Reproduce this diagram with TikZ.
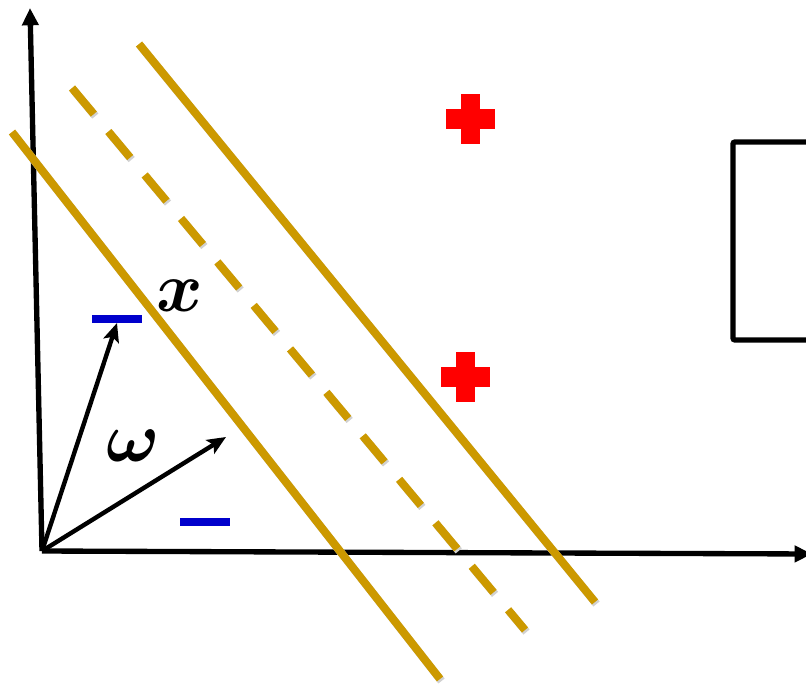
\documentclass[tikz,border=0pt]{standalone}
\usepackage{amsmath,bm}
\usetikzlibrary{arrows.meta}
\definecolor{gold}{RGB}{204,153,0}
\definecolor{plusred}{RGB}{255,0,0}
\definecolor{minusblue}{RGB}{0,0,204}
\begin{document}
\begin{tikzpicture}[x=0.75pt,y=-0.75pt,
  axis/.style={line width=4pt,-{Triangle[length=13pt,width=12pt]}},
  vec/.style={line width=3.3pt,-{Stealth[length=14pt,width=12pt,inset=3pt]}},
  margin/.style={gold,line width=6pt},
  midline/.style={margin,dash pattern=on 25.5pt off 17pt},
  shade/.style={black!18,line width=6pt},
  minus/.style={fill=minusblue,draw=none,minimum width=37.5pt,minimum height=6pt,inner sep=0pt,outer sep=0pt},
  plush/.style={fill=plusred,draw=none,minimum width=37pt,minimum height=15pt,inner sep=0pt},
  plusv/.style={fill=plusred,draw=none,minimum width=14.5pt,minimum height=37.5pt,inner sep=0pt},
  lbl/.style={scale=5.3,inner sep=0pt},
  boxline/.style={line width=4pt,rounded corners=1.5pt}]
\useasboundingbox (0,0) rectangle (806,685);
\clip (0,0) rectangle (806,685);
% coordinates
\coordinate (O) at (42,551);
\coordinate (ytip) at (30,8);
\coordinate (xtip) at (812,554);
\coordinate (w2) at (226,437);
\coordinate (l1a) at (12,132);
\coordinate (l1b) at (440,679);
\coordinate (l2a) at (139,44);
\coordinate (l2b) at (595,602);
\coordinate (l3a) at (72,88);
\coordinate (l3b) at (525,630);
\coordinate (bxa) at (733,142);
\coordinate (bxb) at (900,340);
% box on the right
\draw[boxline] (bxa) rectangle (bxb);
% axes
\draw[axis] (O) -- (ytip);
\draw[axis] (O) -- (xtip);
% shadows of margin lines
\draw[shade] ([shift={(1.5,2)}]l1a) -- ([shift={(1.5,2)}]l1b);
\draw[shade] ([shift={(1.5,2)}]l2a) -- ([shift={(1.5,2)}]l2b);
\draw[shade,dash pattern=on 25.5pt off 17pt] ([shift={(1.5,2)}]l3a) -- ([shift={(1.5,2)}]l3b);
% margin lines
\draw[margin] (l1a) -- (l1b);
\draw[margin] (l2a) -- (l2b);
\draw[midline] (l3a) -- (l3b);
% minus signs
\node[minus] (m1) at (117,319) {};
\node[minus] (m2) at (205,522) {};
% plus signs
\node[plush] (p1h) at (470.5,119) {};
\node[plusv] (p1v) at (470.5,119) {};
\node[plush] (p2h) at (465.5,377) {};
\node[plusv] (p2v) at (465.5,377) {};
% vectors
\draw[vec] (O) -- (m1.south);
\draw[vec] (O) -- (w2);
% labels
\node[lbl] (lx) at (180,296) {$\bm{x}$};
\node[lbl] (lw) at (133,446) {$\bm{\omega}$};
\end{tikzpicture}
\end{document}
